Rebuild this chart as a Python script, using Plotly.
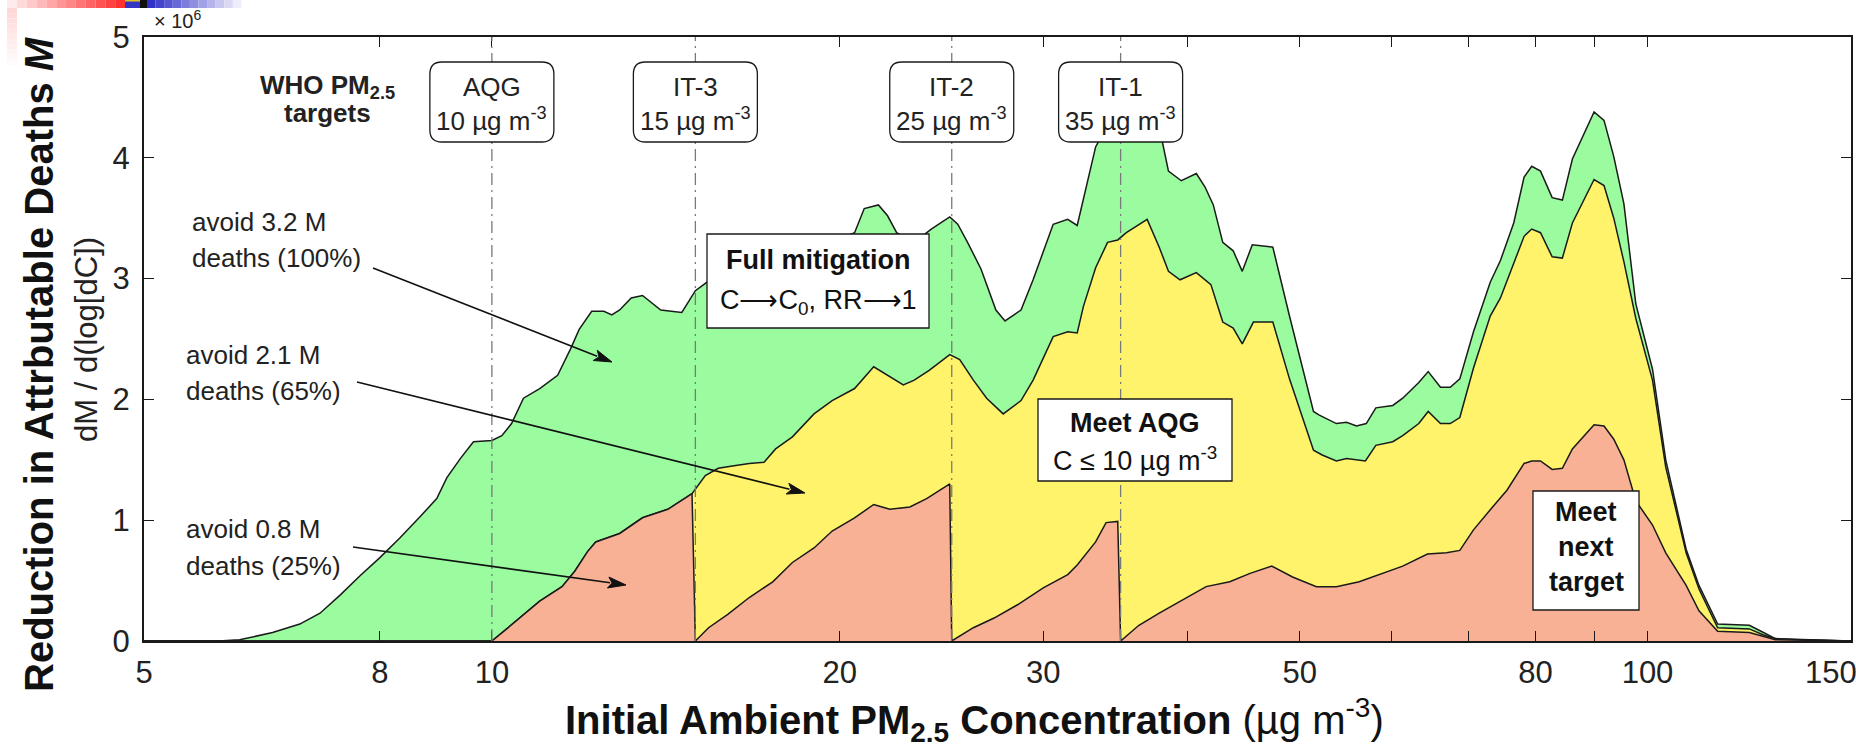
import numpy as np
import plotly.graph_objects as go

# ---------------- data (values in millions of deaths, dM/dlog C) ----------------
total_c = [5, 5.8, 6.05, 6.46, 6.82, 7.10, 7.39, 7.69, 8.0, 8.32, 8.67, 8.96, 9.14, 9.39, 9.64, 10.0,
           10.2, 10.4, 10.65, 11.0, 11.4, 11.7, 11.9, 12.2, 12.5, 12.7, 12.9, 13.2, 13.5, 14.0, 14.6,
           15.0, 15.4, 16, 17, 18, 19, 20, 20.6, 21.0, 21.6, 22.0, 22.4, 23.2, 24.0, 24.9, 25.3, 25.8,
           26.5, 27.3, 27.8, 28.7, 29.4, 30.6, 31.5, 32.1, 33.3, 34, 35, 36, 37, 38, 38.5, 39.5, 40.7,
           41.4, 42.1, 42.9, 43.8, 44.6, 45.5, 47.4, 49.0, 51.4, 52.0, 53.8, 54.9, 56.0, 57.1, 58.2,
           60.2, 61.4, 63.4, 64.6, 66.2, 67.5, 68.8, 70.7, 73.1, 74.6, 76.6, 78.2, 79.4, 80.8, 82.7,
           84.4, 86.1, 89.9, 91.7, 93.5, 95.4, 97.7, 101, 103.7, 108, 110.8, 115, 122.5, 126, 129, 135, 150]
total_v = [0, 0, 0.01, 0.07, 0.14, 0.23, 0.38, 0.54, 0.69, 0.85, 1.03, 1.18, 1.35, 1.51, 1.65, 1.66,
           1.70, 1.80, 2.01, 2.09, 2.20, 2.42, 2.58, 2.73, 2.73, 2.70, 2.74, 2.84, 2.86, 2.74, 2.72,
           2.90, 2.98, 3.02, 3.10, 3.18, 3.26, 3.33, 3.38, 3.58, 3.61, 3.52, 3.38, 3.30, 3.41, 3.51, 3.45, 3.30,
           3.08, 2.74, 2.65, 2.74, 2.99, 3.45, 3.49, 3.44, 4.09, 4.25, 4.35, 4.40, 4.30, 4.15, 3.89, 3.81, 3.87,
           3.76, 3.61, 3.30, 3.23, 3.06, 3.28, 3.26, 2.69, 1.90, 1.87, 1.80, 1.81, 1.78, 1.80, 1.93,
           1.95, 2.01, 2.14, 2.23, 2.10, 2.10, 2.17, 2.56, 2.97, 3.15, 3.46, 3.84, 3.93, 3.89, 3.67,
           3.65, 3.99, 4.38, 4.31, 4.01, 3.62, 2.79, 2.25, 1.50, 0.76, 0.46, 0.14, 0.13, 0.07, 0.02, 0.01, 0]

aqg_c = [5, 10.0, 10.3, 10.65, 11.0, 11.5, 11.8, 12.1, 12.3, 12.9, 13.5, 14.2, 14.9, 15.3, 15.7, 16.2,
         16.7, 17.2, 17.6, 18.2, 19.0, 19.7, 20.6, 21.4, 22.1, 22.7, 23.2, 23.9, 24.9, 25.4, 26.1, 26.8,
         27.7, 28.7, 29.4, 30.6, 31.5, 32.1, 32.5, 33.3, 34.1, 34.8, 35.4, 36.9, 37.8, 38.5, 39.4, 40.7,
         41.9, 42.9, 43.8, 44.6, 45.6, 47.4, 49.0, 51.4, 52.3, 53.8, 54.9, 57.0, 58.2, 60.2, 61.4, 63.4,
         64.6, 66.2, 67.5, 68.8, 70.7, 73.1, 74.6, 76.6, 78.2, 79.4, 80.8, 82.7, 84.4, 86.1, 89.9, 91.7,
         93.5, 95.4, 97.7, 101, 103.7, 108, 110.8, 115, 122.5, 126, 129, 150]
aqg_v = [0, 0, 0.10, 0.22, 0.33, 0.45, 0.58, 0.74, 0.82, 0.89, 1.02, 1.09, 1.22, 1.37, 1.43, 1.45,
         1.47, 1.48, 1.59, 1.69, 1.88, 1.99, 2.09, 2.27, 2.19, 2.12, 2.16, 2.24, 2.37, 2.33, 2.16, 2.01,
         1.88, 1.99, 2.16, 2.52, 2.56, 2.55, 2.77, 3.09, 3.30, 3.32, 3.38, 3.49, 3.26, 3.06, 2.99, 3.05,
         2.95, 2.64, 2.59, 2.46, 2.64, 2.64, 2.17, 1.58, 1.54, 1.49, 1.51, 1.49, 1.62, 1.65, 1.70, 1.80,
         1.90, 1.80, 1.80, 1.85, 2.26, 2.69, 2.84, 3.12, 3.35, 3.41, 3.38, 3.18, 3.17, 3.46, 3.82, 3.77,
         3.50, 3.14, 2.67, 2.16, 1.44, 0.73, 0.43, 0.11, 0.10, 0.05, 0.02, 0]

next_c = [5, 10.0, 10.3, 10.65, 11.0, 11.5, 11.8, 12.1, 12.3, 12.9, 13.5, 14.2, 14.9, 15.0, 15.4, 16.0,
          16.7, 17.5, 18.2, 19.0, 19.7, 20.6, 21.4, 22.1, 23.0, 23.8, 24.9, 25.0, 26.1, 27.2, 28.5, 30.0,
          31.5, 32.1, 33.3, 34.0, 34.8, 35.0, 36.3, 37.8, 39.4, 41.5, 43.5, 45.3, 47.3, 49.3, 51.7, 53.8,
          56.3, 58.7, 61.4, 64.5, 67.0, 68.8, 70.7, 73.6, 75.6, 78.2, 79.4, 80.8, 82.7, 84.4, 86.1, 89.9,
          91.7, 93.5, 95.4, 97.7, 101, 103.7, 108, 110.8, 115, 122.5, 126, 129, 150]
next_v = [0, 0, 0.10, 0.22, 0.33, 0.45, 0.58, 0.74, 0.82, 0.89, 1.02, 1.09, 1.22, 0, 0.11, 0.22,
          0.36, 0.49, 0.65, 0.77, 0.91, 1.02, 1.13, 1.09, 1.11, 1.18, 1.30, 0, 0.11, 0.19, 0.30, 0.44,
          0.55, 0.63, 0.82, 0.98, 0.99, 0, 0.13, 0.23, 0.33, 0.45, 0.49, 0.56, 0.62, 0.53, 0.45, 0.45,
          0.49, 0.55, 0.62, 0.72, 0.73, 0.75, 0.92, 1.12, 1.25, 1.47, 1.49, 1.49, 1.42, 1.43, 1.59, 1.79,
          1.78, 1.67, 1.50, 1.16, 0.96, 0.73, 0.46, 0.25, 0.08, 0.07, 0.04, 0.01, 0]

target_names = ["AQG", "IT-3", "IT-2", "IT-1"]
target_conc = [10, 15, 25, 35]

x_tickvals = [5, 8, 10, 20, 30, 50, 80, 100]
x_ticktext = ["5", "8", "10", "20", "30", "50", "80", "100"]
x_minor_ticks = [40, 60, 70, 90]
x_edge_label = "150"          # label of the right-hand axis limit
y_tickvals = [0, 1, 2, 3, 4, 5]

# ---------------- layout geometry ----------------
W, H = 1856, 753
L, R, T, B = 144, 5, 37, 112
PW, PH = W - L - R, H - T - B
XMIN, XMAX = 5, 150
FONT = "Liberation Sans, Arial, Helvetica, sans-serif"
M = 1e6


def px(xf):
    return (xf - L) / PW


def py(yf):
    return (H - B - yf) / PH


def cx(c):
    return (np.log10(c) - np.log10(XMIN)) / (np.log10(XMAX) - np.log10(XMIN))


GREEN, YELLOW, SALMON = "#9afb9f", "#fff36b", "#f9b196"
EDGE = "#1a1a1a"

fig = go.Figure()
for xs, ys, col in [(total_c, total_v, GREEN), (aqg_c, aqg_v, YELLOW), (next_c, next_v, SALMON)]:
    fig.add_trace(go.Scatter(x=xs, y=[v * M for v in ys], mode="lines", fill="tozeroy",
                             fillcolor=col, line=dict(color=EDGE, width=1.5), hoverinfo="skip",
                             showlegend=False))

shapes = []
annotations = []

# dash-dot target lines
for c in target_conc:
    shapes.append(dict(type="line", xref="paper", yref="paper", x0=cx(c), x1=cx(c), y0=0, y1=1,
                       line=dict(color="#7a7a7a", width=1.3, dash="12px,5px,2px,5px"), layer="above"))


def rounded(x0, y0, x1, y1, r=12):
    rx, ry = r / PW, r / PH
    X0, X1, Yt, Yb = px(x0), px(x1), py(y0), py(y1)
    return (f"M {X0+rx},{Yt} L {X1-rx},{Yt} Q {X1},{Yt} {X1},{Yt-ry} L {X1},{Yb+ry} "
            f"Q {X1},{Yb} {X1-rx},{Yb} L {X0+rx},{Yb} Q {X0},{Yb} {X0},{Yb+ry} "
            f"L {X0},{Yt-ry} Q {X0},{Yt} {X0+rx},{Yt} Z")


# rounded target boxes
for name, c in zip(target_names, target_conc):
    xc = L + cx(c) * PW
    shapes.append(dict(type="path", xref="paper", yref="paper", path=rounded(xc - 62, 62, xc + 62, 142),
                       fillcolor="white", line=dict(color=EDGE, width=1.3), layer="above"))
    annotations.append(dict(x=cx(c), y=py(87), xref="paper", yref="paper", text=name, showarrow=False,
                            font=dict(size=26, color="#222"), xanchor="center", yanchor="middle"))
    annotations.append(dict(x=cx(c), y=py(119), xref="paper", yref="paper",
                            text=f"{c} µg m<sup>-3</sup>", showarrow=False,
                            font=dict(size=26, color="#222"), xanchor="center", yanchor="middle"))

# square label boxes
for (x0, y0, x1, y1) in [(707, 234, 929, 328), (1038, 399, 1232, 481), (1533, 491, 1639, 610)]:
    shapes.append(dict(type="rect", xref="paper", yref="paper", x0=px(x0), x1=px(x1), y0=py(y1), y1=py(y0),
                       fillcolor="white", line=dict(color=EDGE, width=1.3), layer="above"))

box_texts = [
    ("<b>Full mitigation</b>", 818, 260),
    ("C⟶C<sub>0</sub>, RR⟶1", 818, 302),
    ("<b>Meet AQG</b>", 1135, 423),
    ("C ≤ 10 µg m<sup>-3</sup>", 1135, 459),
    ("<b>Meet</b>", 1586, 512),
    ("<b>next</b>", 1586, 547),
    ("<b>target</b>", 1586, 582),
]
for t, x, y in box_texts:
    annotations.append(dict(x=px(x), y=py(y), xref="paper", yref="paper", text=t, showarrow=False,
                            font=dict(size=27, color="#111"), xanchor="center", yanchor="middle"))

# WHO label
annotations.append(dict(x=px(327), y=py(86), xref="paper", yref="paper", text="<b>WHO PM<sub>2.5</sub></b>",
                        showarrow=False, font=dict(size=26, color="#222"), xanchor="center", yanchor="middle"))
annotations.append(dict(x=px(327), y=py(113), xref="paper", yref="paper", text="<b>targets</b>",
                        showarrow=False, font=dict(size=26, color="#222"), xanchor="center", yanchor="middle"))

# avoided deaths labels + arrows (arrows drawn as line + filled head)
labels = [("avoid 3.2 M", "deaths (100%)", 190, 222, 258, (373, 268), (612, 362)),
          ("avoid 2.1 M", "deaths (65%)", 184, 355, 391, (357, 382), (805, 493)),
          ("avoid 0.8 M", "deaths (25%)", 184, 529, 566, (353, 547), (626, 585))]
for l1, l2, x, y1, y2, tail, head in labels:
    annotations.append(dict(x=px(x), y=py(y1), xref="paper", yref="paper", text=l1, showarrow=False,
                            font=dict(size=26, color="#222"), xanchor="left", yanchor="middle"))
    annotations.append(dict(x=px(x), y=py(y2), xref="paper", yref="paper", text=l2, showarrow=False,
                            font=dict(size=26, color="#222"), xanchor="left", yanchor="middle"))
    dx, dy = head[0] - tail[0], head[1] - tail[1]
    ln = np.hypot(dx, dy)
    ux, uy = dx / ln, dy / ln
    hl, hw = 18, 5.5
    bx, by = head[0] - ux * hl, head[1] - uy * hl
    shapes.append(dict(type="line", xref="paper", yref="paper", x0=px(tail[0]), y0=py(tail[1]),
                       x1=px(bx + ux * 2), y1=py(by + uy * 2), line=dict(color="#111", width=1.6), layer="above"))
    p1 = (bx - uy * hw, by + ux * hw)
    p2 = (bx + uy * hw, by - ux * hw)
    path = (f"M {px(head[0])},{py(head[1])} L {px(p1[0])},{py(p1[1])} "
            f"L {px(bx + ux * 4)},{py(by + uy * 4)} L {px(p2[0])},{py(p2[1])} Z")
    shapes.append(dict(type="path", xref="paper", yref="paper", path=path, fillcolor="#111",
                       line=dict(color="#111", width=1), layer="above"))

# exponent
annotations.append(dict(x=px(152), y=py(20), xref="paper", yref="paper", text="× 10<sup>6</sup>",
                        showarrow=False, font=dict(size=20, color="#222"), xanchor="left", yanchor="middle"))

# right-edge tick label (kept inside the page like the reference)
annotations.append(dict(x=px(1831), y=py(672), xref="paper", yref="paper", text=x_edge_label,
                        showarrow=False, font=dict(size=31, color="#222"), xanchor="center", yanchor="middle"))

# axis titles
annotations.append(dict(x=px(39), y=py(364), xref="paper", yref="paper",
                        text="<b>Reduction in Attrbutable Deaths <i>M</i></b>", textangle=-90,
                        showarrow=False, font=dict(size=40, color="#111"), xanchor="center", yanchor="middle"))
annotations.append(dict(x=px(86), y=py(340), xref="paper", yref="paper",
                        text="dM / d(log[dC])", textangle=-90,
                        showarrow=False, font=dict(size=31, color="#222"), xanchor="center", yanchor="middle"))
annotations.append(dict(x=px(974), y=py(720), xref="paper", yref="paper",
                        text="<b>Initial Ambient PM<sub>2.5</sub> Concentration</b> (µg m<sup>-3</sup>)",
                        showarrow=False, font=dict(size=40, color="#111"), xanchor="center", yanchor="middle"))

# top-left slide artefact (gradient bars)
n = 12
for i in range(n):
    f = i / (n - 1)
    x0 = 7 + (125 - 7) * i / n
    x1 = 7 + (125 - 7) * (i + 1) / n
    col = f"rgb(255,{int(235 - 185 * f)},{int(235 - 185 * f)})"
    shapes.append(dict(type="rect", xref="paper", yref="paper", x0=px(x0), x1=px(x1), y0=py(8), y1=py(0),
                       fillcolor=col, line=dict(width=0), layer="above"))
    x0 = 147 + (250 - 147) * i / n
    x1 = 147 + (250 - 147) * (i + 1) / n
    g = int(50 + 205 * f)
    col = f"rgb({g},{g},{int(200 + 55 * f)})"
    shapes.append(dict(type="rect", xref="paper", yref="paper", x0=px(x0), x1=px(x1), y0=py(8), y1=py(0),
                       fillcolor=col, line=dict(width=0), layer="above"))
    y0 = 8 + 62 * i / n
    y1 = 8 + 62 * (i + 1) / n
    p = int(215 + 40 * f)
    shapes.append(dict(type="rect", xref="paper", yref="paper", x0=px(7), x1=px(17), y0=py(y1), y1=py(y0),
                       fillcolor=f"rgb(255,{p},{p})", line=dict(width=0), layer="above"))
shapes.append(dict(type="rect", xref="paper", yref="paper", x0=px(125), x1=px(140), y0=py(8), y1=py(0),
                   fillcolor="#3434c4", line=dict(width=0), layer="above"))
shapes.append(dict(type="rect", xref="paper", yref="paper", x0=px(125), x1=px(147), y0=py(1.5), y1=py(0),
                   fillcolor="#e0c020", line=dict(width=0), layer="above"))
shapes.append(dict(type="rect", xref="paper", yref="paper", x0=px(140), x1=px(147), y0=py(8), y1=py(0),
                   fillcolor="#111", line=dict(width=0), layer="above"))

axis_common = dict(showline=True, linecolor=EDGE, linewidth=2, mirror="ticks", ticks="inside",
                   ticklen=10, tickwidth=1.3, tickcolor=EDGE, showgrid=False, zeroline=False,
                   tickfont=dict(size=31, color="#222", family=FONT))

fig.update_layout(
    width=W, height=H, autosize=False,
    margin=dict(l=L, r=R, t=T, b=B, pad=0),
    paper_bgcolor="white", plot_bgcolor="white",
    font=dict(family=FONT, color="#222"),
    xaxis=dict(type="log", range=[np.log10(XMIN), np.log10(XMAX)], tickvals=x_tickvals,
               ticktext=x_ticktext, ticklabelstandoff=3, automargin=False,
               minor=dict(tickvals=x_minor_ticks, ticks="inside", ticklen=10, tickwidth=1.3,
                          tickcolor=EDGE, showgrid=False),
               **axis_common),
    yaxis=dict(range=[0, 5 * M], tickvals=[v * M for v in y_tickvals],
               ticktext=[str(v) for v in y_tickvals], ticklabelstandoff=6, automargin=False, **axis_common),
    shapes=shapes, annotations=annotations,
)

fig.write_html("out.html", config={"displayModeBar": False},
               post_script="document.body.style.margin='0';")
